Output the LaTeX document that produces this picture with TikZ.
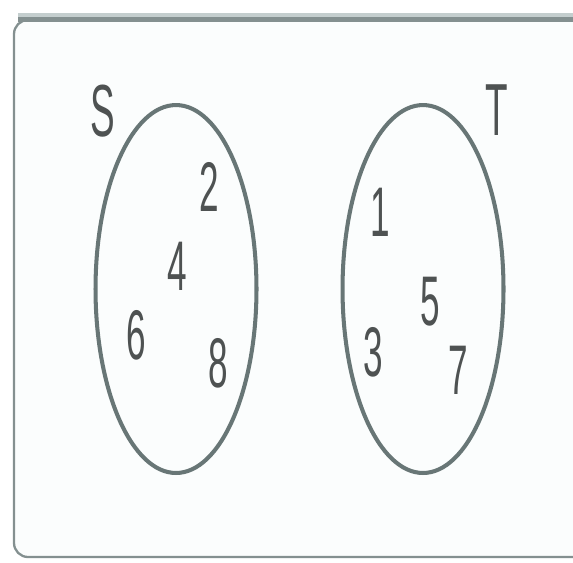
\documentclass[tikz,border=0pt]{standalone}
\usepackage{fontspec}
\setmainfont{Liberation Sans}
\usepackage{xcolor}
\usepackage{tikz}
\usetikzlibrary{shapes,positioning}

\definecolor{ringgray}{RGB}{104,118,118}
\definecolor{framegray}{RGB}{132,144,144}
\definecolor{toplight}{RGB}{196,206,206}
\definecolor{digitgray}{RGB}{78,82,82}
\definecolor{paper}{RGB}{251,253,253}

\newcommand{\slim}[1]{\scalebox{0.5}[1]{#1}}

\begin{document}
\begin{tikzpicture}[
    x=0.02cm, y=-0.02cm,
    setring/.style={draw=ringgray, ellipse, line width=2.3pt, inner sep=0pt,
                    minimum width=3.22cm, minimum height=7.36cm},
    elem/.style={text=digitgray, inner sep=0pt,
                 font=\fontsize{40}{40}\selectfont},
    setname/.style={elem, font=\fontsize{42}{42}\selectfont}
]
\useasboundingbox (0,0) rectangle (573,562);
\clip (0,0) rectangle (573,562);
\fill[white] (0,0) rectangle (573,562);

% outer frame, cut off on the right
\fill[paper, rounded corners=8pt] (14,18) rectangle (640,557);
\draw[framegray, line width=1.3pt, rounded corners=8pt] (14,20) rectangle (640,557);
\draw[toplight, line width=2.4pt] (18,15) -- (573,15);
\draw[framegray, line width=2.4pt] (18,19.5) -- (573,19.5);

% the two sets
\node[setring] (S) at (176,289) {};
\node[setring] (T) at (423,289) {};

\node[setname] (labS) at (103,111) {\slim{S}};
\node[setname] (labT) at (497,110) {\slim{T}};

% elements of S
\node[elem] (n2) at (209,187) {\slim{2}};
\node[elem] (n4) at (177,266) {\slim{4}};
\node[elem] (n6) at (136,335) {\slim{6}};
\node[elem] (n8) at (218,363) {\slim{8}};

% elements of T
\node[elem] (n1) at (380,212) {\slim{1}};
\node[elem] (n5) at (430,302) {\slim{5}};
\node[elem] (n3) at (373,352) {\slim{3}};
\node[elem] (n7) at (458,370) {\slim{7}};
\end{tikzpicture}
\end{document}
